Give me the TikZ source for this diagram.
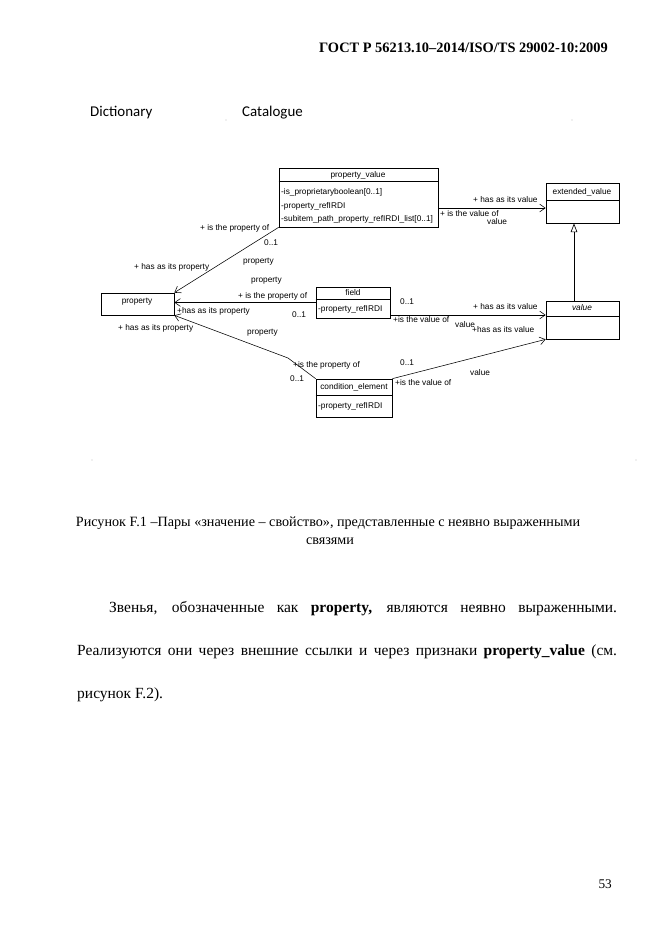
\documentclass[tikz,border=0pt]{standalone}
\usepackage{fontspec}
\setmainfont{Liberation Serif}
\newfontfamily\umlfont{Liberation Sans}
\newfontfamily\capfont{Carlito}
\usetikzlibrary{arrows.meta}
\usetikzlibrary{fit}

\tikzset{
  cls/.style={draw, line width=0.6pt, inner sep=0pt},
  lbl/.style={font=\umlfont\fontsize{7.5}{8}\selectfont, inner sep=0pt, anchor=west},
  ttl/.style={font=\umlfont\fontsize{7.5}{8}\selectfont, inner sep=0pt},
  assoc/.style={line width=0.5pt, -{Straight Barb[length=5pt,width=7pt]}},
  gen/.style={line width=0.6pt, -{Triangle[open,length=8pt,width=6pt]}},
  body/.style={font=\rmfamily\fontsize{14}{16}\selectfont, inner sep=0pt, anchor=base west},
}

\begin{document}
\begin{tikzpicture}[x=0.9039pt, y=-0.9039pt]
\fill[white] (0,0) rectangle (661,935);
\useasboundingbox (0,0) rectangle (661,935);

% page head
\node[font=\rmfamily\bfseries\fontsize{13}{15}\selectfont, anchor=base east, inner sep=0pt] (head) at (608,52) {ГОСТ Р 56213.10–2014/ISO/TS 29002-10:2009};
\node[font=\capfont\fontsize{13.5}{16}\selectfont, anchor=base west, inner sep=0pt] (dict) at (90,116) {Dictionary};
\node[font=\capfont\fontsize{13.5}{16}\selectfont, anchor=base west, inner sep=0pt] (catal) at (242,116) {Catalogue};
\fill[gray!50] (226,120) circle (0.5pt);
\fill[gray!50] (572,120) circle (0.5pt);
\fill[gray!50] (92,460) circle (0.6pt);
\fill[gray!50] (636,460) circle (0.6pt);

% classes
\node[cls, fit={(279,168) (438,227)}] (pv) {};
\draw[cls] (pv.west |- 0,181) -- (pv.east |- 0,181);
\node[ttl] (pvname) at (358,175) {property\_value};
\node[lbl] (pva) at (281,192) {-is\_proprietaryboolean[0..1]};
\node[lbl] (pvb) at (281,206) {-property\_refIRDI};
\node[lbl] (pvc) at (281,219) {-subitem\_path\_property\_refIRDI\_list[0..1]};

\node[cls, fit={(546,183) (619,223)}] (ev) {};
\draw[cls] (ev.west |- 0,200) -- (ev.east |- 0,200);
\node[ttl] (evname) at (582,192) {extended\_value};

\node[cls, fit={(101,293) (174,315)}] (prop) {};
\node[ttl] (propname) at (137,302) {property};

\node[cls, fit={(316,287) (390,318)}] (fld) {};
\draw[cls] (fld.west |- 0,299) -- (fld.east |- 0,299);
\node[ttl] (fldname) at (353,293) {field};
\node[lbl] (flda) at (318,309) {-property\_refIRDI};

\node[cls, fit={(546,301) (619,339)}] (val) {};
\draw[cls] (val.west |- 0,316) -- (val.east |- 0,316);
\node[ttl, font=\umlfont\itshape\fontsize{7.5}{8}\selectfont] (valname) at (582,308) {value};

\node[cls, fit={(316,379) (392,417)}] (ce) {};
\draw[cls] (ce.west |- 0,395) -- (ce.east |- 0,395);
\node[ttl] (cename) at (354,387) {condition\_element};
\node[lbl] (cea) at (318,406) {-property\_refIRDI};

% associations
\draw[assoc] (pv.south west) -- (prop.north east);
\draw[assoc] (pv.east |- 0,208) -- (ev.west |- 0,208);
\draw[assoc] (fld.west) -- (prop.east |- fld.west);
\draw[assoc] (fld.east |- 0,315) -- (val.west |- 0,315);
\draw[assoc] (ce.north west) -- (288,358) -- (prop.south east);
\draw[assoc] (ce.north east) -- (val.south west);
\draw[gen] (val.north -| 574,0) -- (ev.south -| 574,0);

% role labels
\node[lbl] (l1) at (200,228) {+ is the property of};
\node[lbl] (l2) at (264,243) {0..1};
\node[lbl] (l3) at (243,262) {property};
\node[lbl] (l4) at (134,267) {+ has as its property};
\node[lbl] (l5) at (251,281) {property};
\node[lbl] (l6) at (238,296) {+ is the property of};
\node[lbl] (l7) at (177,311) {+has as its property};
\node[lbl] (l8) at (292,315) {0..1};
\node[lbl] (l9) at (118,328) {+ has as its property};
\node[lbl] (l10) at (247,333) {property};
\node[lbl] (l11) at (293,365) {+is the property of};
\node[lbl] (l12) at (290,379) {0..1};
\node[lbl] (l13) at (400,363) {0..1};
\node[lbl] (l14) at (470,373) {value};
\node[lbl] (l15) at (395,383) {+is the value of};
\node[lbl] (l16) at (400,302) {0..1};
\node[lbl] (l17) at (473,307) {+ has as its value};
\node[lbl] (l18) at (393,320) {+is the value of};
\node[lbl] (l19) at (455,325) {value};
\node[lbl] (l20) at (472,330) {+has as its value};
\node[lbl] (l21) at (473,200) {+ has as its value};
\node[lbl] (l22) at (440,214) {+ is the value of};
\node[lbl] (l23) at (487,222) {value};

% caption and text
\node[font=\rmfamily\fontsize{12.8}{15}\selectfont, anchor=base, inner sep=0pt] (cap1) at (328,526) {Рисунок F.1 –Пары «значение – свойство», представленные с неявно выраженными};
\node[font=\rmfamily\fontsize{12.8}{15}\selectfont, anchor=base, inner sep=0pt] (cap2) at (330,544) {связями};
\node[body] (par1) at (109,612) {\makebox[459pt][s]{Звенья, обозначенные как \textbf{property,} являются неявно выраженными.}};
\node[body] (par2) at (77,655) {\makebox[488pt][s]{Реализуются они через внешние ссылки и через признаки \textbf{property\_value} (см.}};
\node[body] (par3) at (77,698) {рисунок F.2).};
\node[font=\rmfamily\fontsize{12}{14}\selectfont, anchor=base east, inner sep=0pt] (pgno) at (612,888) {53};
\end{tikzpicture}
\end{document}
